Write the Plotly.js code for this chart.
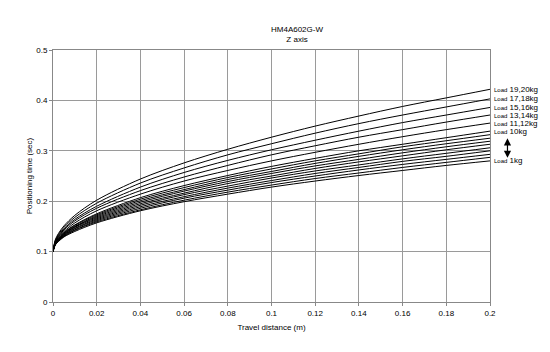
<!DOCTYPE html>
<html>
<head>
<meta charset="utf-8">
<script src="https://cdn.plot.ly/plotly-3.0.1.min.js"></script>
<style>html,body{margin:0;padding:0;background:#fff;}#chart{width:550px;height:352px;}</style>
</head>
<body>
<div id="chart"></div>
<script>
// Travel distance (m)
const distance = [0, 0.001, 0.0025, 0.005, 0.01, 0.02, 0.04, 0.06, 0.08, 0.1, 0.12, 0.14, 0.16, 0.18, 0.2];

// Load labels (top to bottom)
const loadLabels = ["19,20kg", "17,18kg", "15,16kg", "13,14kg", "11,12kg", "10kg", "9kg", "8kg", "7kg", "6kg", "5kg", "4kg", "3kg", "2kg", "1kg"];
const labelShown = [true, true, true, true, true, true, false, false, false, false, false, false, false, false, true];

// Positioning time (sec) per load
const t_19_20 = [0.1, 0.123, 0.136, 0.151, 0.172, 0.202, 0.244, 0.276, 0.303, 0.327, 0.349, 0.369, 0.388, 0.405, 0.422];
const t_17_18 = [0.1, 0.121, 0.134, 0.148, 0.168, 0.196, 0.236, 0.266, 0.292, 0.314, 0.335, 0.354, 0.371, 0.387, 0.403];
const t_15_16 = [0.1, 0.120, 0.132, 0.145, 0.164, 0.190, 0.228, 0.257, 0.281, 0.302, 0.321, 0.339, 0.356, 0.371, 0.386];
const t_13_14 = [0.1, 0.119, 0.130, 0.143, 0.161, 0.186, 0.221, 0.248, 0.271, 0.292, 0.310, 0.327, 0.342, 0.357, 0.371];
const t_11_12 = [0.1, 0.118, 0.129, 0.140, 0.157, 0.181, 0.214, 0.240, 0.261, 0.280, 0.297, 0.313, 0.328, 0.342, 0.355];
const t_10 = [0.1, 0.117, 0.127, 0.138, 0.153, 0.175, 0.207, 0.231, 0.251, 0.269, 0.285, 0.300, 0.313, 0.326, 0.339];
const t_9  = [0.1, 0.116, 0.126, 0.137, 0.152, 0.173, 0.204, 0.227, 0.247, 0.264, 0.280, 0.294, 0.308, 0.320, 0.332];
const t_8  = [0.1, 0.116, 0.125, 0.136, 0.150, 0.171, 0.201, 0.223, 0.243, 0.259, 0.275, 0.289, 0.302, 0.314, 0.325];
const t_7  = [0.1, 0.115, 0.124, 0.135, 0.149, 0.169, 0.198, 0.220, 0.239, 0.255, 0.270, 0.283, 0.296, 0.308, 0.319];
const t_6  = [0.1, 0.115, 0.124, 0.134, 0.148, 0.167, 0.195, 0.216, 0.235, 0.250, 0.265, 0.278, 0.290, 0.302, 0.313];
const t_5  = [0.1, 0.115, 0.123, 0.133, 0.146, 0.165, 0.192, 0.213, 0.230, 0.246, 0.260, 0.272, 0.284, 0.295, 0.306];
const t_4  = [0.1, 0.114, 0.122, 0.132, 0.145, 0.163, 0.189, 0.209, 0.226, 0.241, 0.255, 0.267, 0.279, 0.289, 0.300];
const t_3  = [0.1, 0.114, 0.122, 0.131, 0.143, 0.161, 0.186, 0.206, 0.222, 0.237, 0.250, 0.262, 0.273, 0.283, 0.293];
const t_2  = [0.1, 0.113, 0.121, 0.130, 0.142, 0.159, 0.183, 0.202, 0.218, 0.232, 0.245, 0.256, 0.267, 0.277, 0.287];
const t_1  = [0.1, 0.113, 0.120, 0.129, 0.140, 0.157, 0.181, 0.199, 0.214, 0.228, 0.240, 0.251, 0.261, 0.271, 0.280];

const series = [t_19_20, t_17_18, t_15_16, t_13_14, t_11_12, t_10, t_9, t_8, t_7, t_6, t_5, t_4, t_3, t_2, t_1];

const FONT = "Liberation Sans, Arial, sans-serif";

const traces = series.map((ys, i) => ({
  x: distance, y: ys, type: "scatter", mode: "lines",
  name: loadLabels[i], line: {color: "#000", width: 1, shape: "spline", smoothing: 0.9}, hoverinfo: "skip"
}));

const annotations = [];
series.forEach((ys, i) => {
  if (!labelShown[i]) return;
  annotations.push({
    x: distance[distance.length - 1], y: ys[ys.length - 1], xref: "x", yref: "y",
    xanchor: "left", yanchor: "middle", xshift: 2, showarrow: false,
    text: '<span style="font-size:6px">Load</span> ' + loadLabels[i],
    font: {family: FONT, size: 8, color: "#000"}
  });
});
// double-headed arrow between 10kg and 1kg labels
annotations.push({
  x: 1.04, y: t_1[t_1.length - 1] + 0.006, xref: "paper", yref: "y",
  ax: 0, ay: -21, axref: "pixel", ayref: "pixel", text: "",
  showarrow: true, arrowhead: 2, startarrowhead: 2, arrowside: "end+start",
  arrowsize: 1.2, startarrowsize: 1.2, arrowwidth: 1.2, arrowcolor: "#000"
});

const layout = {
  width: 550, height: 352,
  margin: {l: 53, r: 60, t: 50, b: 50},
  paper_bgcolor: "#fff", plot_bgcolor: "#fff",
  showlegend: false,
  font: {family: FONT, size: 8, color: "#000"},
  title: {text: "HM4A602G-W<br>Z axis", font: {family: FONT, size: 8, color: "#000"},
          x: 0.54, xanchor: "center", y: 0.91, yanchor: "top"},
  xaxis: {
    range: [0, 0.2], tickvals: [0, 0.02, 0.04, 0.06, 0.08, 0.1, 0.12, 0.14, 0.16, 0.18, 0.2],
    ticktext: ["0", "0.02", "0.04", "0.06", "0.08", "0.1", "0.12", "0.14", "0.16", "0.18", "0.2"],
    showgrid: true, gridcolor: "#9a9a9a", gridwidth: 1,
    showline: true, linecolor: "#888", linewidth: 1, mirror: true,
    ticks: "outside", ticklen: 3, tickcolor: "#888", zeroline: false,
    tickfont: {family: FONT, size: 8, color: "#000"},
    title: {text: "Travel distance (m)", font: {family: FONT, size: 8, color: "#000"}, standoff: 7}
  },
  yaxis: {
    range: [0, 0.5], tickvals: [0, 0.1, 0.2, 0.3, 0.4, 0.5],
    ticktext: ["0", "0.1", "0.2", "0.3", "0.4", "0.5"],
    showgrid: true, gridcolor: "#9a9a9a", gridwidth: 1,
    showline: true, linecolor: "#888", linewidth: 1, mirror: true,
    ticks: "outside", ticklen: 3, tickcolor: "#888", zeroline: false,
    tickfont: {family: FONT, size: 8, color: "#000"},
    title: {text: "Positioning time (sec)", font: {family: FONT, size: 8, color: "#000"}, standoff: 2}
  },
  annotations: annotations
};

Plotly.newPlot("chart", traces, layout, {displayModeBar: false, staticPlot: true});
</script>
</body>
</html>
